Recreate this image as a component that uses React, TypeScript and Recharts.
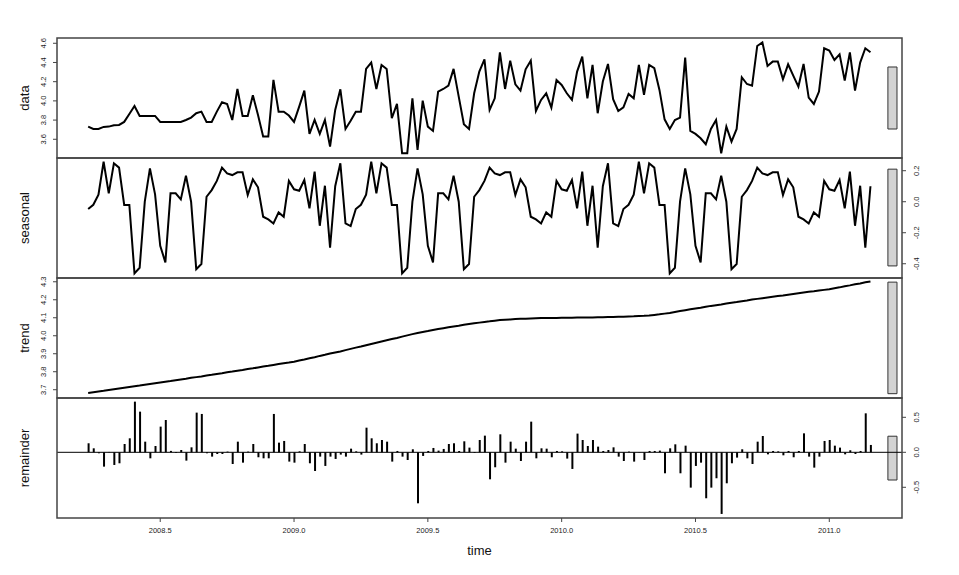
import React from 'react';
import { ComposedChart, Line, Bar, XAxis, YAxis, ReferenceArea, ReferenceLine } from 'recharts';

// weekly series, start = c(2008, 13), frequency = 52
const START_YEAR = 2008;
const START_WEEK = 12;
const FREQ = 52;

const dataValues = [
  3.732, 3.708, 3.708, 3.729, 3.732, 3.746, 3.749, 3.781, 3.864, 3.947,
  3.843, 3.843, 3.843, 3.843, 3.781, 3.781, 3.781, 3.781, 3.781, 3.801,
  3.826, 3.871, 3.888, 3.781, 3.781, 3.888, 3.985, 3.968, 3.801, 4.124,
  3.843, 3.843, 4.058, 3.853, 3.628, 3.628, 4.218, 3.888, 3.888, 3.847,
  3.781, 3.94, 4.107, 3.656, 3.801, 3.656, 3.801, 3.524, 3.906, 4.121,
  3.708, 3.794, 3.888, 3.888, 4.333, 4.399, 4.124, 4.374, 4.333, 3.819,
  3.968, 3.454, 3.454, 4.027, 3.489, 4.003, 3.732, 3.687, 4.097, 4.124,
  4.159, 4.333, 4.044, 3.756, 3.708, 4.079, 4.305, 4.433, 3.906, 4.027,
  4.506, 4.124, 4.419, 4.173, 4.107, 4.329, 4.419, 3.895, 4.01, 4.079,
  3.93, 4.218, 4.166, 4.079, 4.01, 4.305, 4.461, 4.027, 4.374, 3.871,
  4.201, 4.385, 4.017, 3.895, 3.933, 4.072, 4.027, 4.374, 4.062, 4.374,
  4.34, 4.114, 3.808, 3.708, 3.801, 3.826, 4.451, 3.687, 3.656, 3.61,
  3.548, 3.708, 3.801, 3.454, 3.732, 3.576, 3.708, 4.246, 4.176, 4.159,
  4.572, 4.61, 4.364, 4.409, 4.409, 4.225, 4.381, 4.263, 4.149, 4.385,
  4.034, 3.968, 4.097, 4.548, 4.524, 4.426, 4.485, 4.211, 4.506, 4.107,
  4.399, 4.548, 4.506,
];

const seasonalValues = [
  -0.047, -0.02, 0.045, 0.258, 0.054, 0.248, 0.22, -0.021, -0.021, -0.462,
  -0.426, 0.0, 0.215, 0.048, -0.284, -0.391, 0.054, 0.054, 0.015, 0.168,
  0.0, -0.436, -0.402, 0.032, 0.075, 0.134, 0.22, 0.183, 0.172, 0.19,
  0.19, 0.043, 0.144, 0.093, -0.097, -0.114, -0.14, -0.069, -0.097, 0.134,
  0.08, 0.071, 0.14, -0.043, 0.194, -0.155, 0.103, -0.297, 0.1, 0.248,
  -0.14, -0.157,
  -0.047, -0.02, 0.045, 0.258, 0.054, 0.248, 0.22, -0.021, -0.021, -0.462,
  -0.426, 0.0, 0.215, 0.048, -0.284, -0.391, 0.054, 0.054, 0.015, 0.168,
  0.0, -0.436, -0.402, 0.032, 0.075, 0.134, 0.22, 0.183, 0.172, 0.19,
  0.19, 0.043, 0.144, 0.093, -0.097, -0.114, -0.14, -0.069, -0.097, 0.134,
  0.08, 0.071, 0.14, -0.043, 0.194, -0.155, 0.103, -0.297, 0.1, 0.248,
  -0.14, -0.157,
  -0.047, -0.02, 0.045, 0.258, 0.054, 0.248, 0.22, -0.021, -0.021, -0.462,
  -0.426, 0.0, 0.215, 0.048, -0.284, -0.391, 0.054, 0.054, 0.015, 0.168,
  0.0, -0.436, -0.402, 0.032, 0.075, 0.134, 0.22, 0.183, 0.172, 0.19,
  0.19, 0.043, 0.144, 0.093, -0.097, -0.114, -0.14, -0.069, -0.097, 0.134,
  0.08, 0.071, 0.14, -0.043, 0.194, -0.155, 0.103, -0.297, 0.1,
];

const trendValues = [
  3.682, 3.686, 3.69, 3.694, 3.699, 3.703, 3.707, 3.711, 3.715, 3.719,
  3.723, 3.728, 3.732, 3.736, 3.74, 3.744, 3.748, 3.753, 3.757, 3.761,
  3.766, 3.77, 3.774, 3.779, 3.783, 3.788, 3.792, 3.797, 3.801, 3.806,
  3.81, 3.815, 3.819, 3.824, 3.829, 3.833, 3.838, 3.843, 3.847, 3.851,
  3.856, 3.862, 3.868, 3.875, 3.881, 3.888, 3.894, 3.901, 3.907, 3.913,
  3.92, 3.927, 3.934, 3.94, 3.947, 3.954, 3.961, 3.968, 3.975, 3.982,
  3.988, 3.995, 4.002, 4.009, 4.015, 4.021, 4.026, 4.032, 4.037, 4.042,
  4.047, 4.052, 4.056, 4.061, 4.065, 4.069, 4.073, 4.077, 4.08, 4.084,
  4.087, 4.089, 4.091, 4.093, 4.094, 4.095, 4.096, 4.097, 4.098, 4.098,
  4.099, 4.099, 4.1, 4.1, 4.1, 4.101, 4.101, 4.102, 4.102, 4.103,
  4.103, 4.104, 4.104, 4.105, 4.106, 4.107, 4.108, 4.11, 4.111, 4.113,
  4.116, 4.119, 4.123, 4.127, 4.132, 4.137, 4.142, 4.147, 4.152, 4.156,
  4.161, 4.166, 4.17, 4.174, 4.179, 4.183, 4.187, 4.192, 4.196, 4.201,
  4.205, 4.209, 4.213, 4.217, 4.221, 4.224, 4.228, 4.232, 4.236, 4.24,
  4.244, 4.247, 4.251, 4.255, 4.259, 4.264, 4.269, 4.275, 4.28, 4.286,
  4.291, 4.297, 4.302,
];

const remainderValues = [
  0.129, 0.057, -0.014, -0.205, 0.005, -0.181, -0.157, 0.119, 0.2, 0.724,
  0.581, 0.152, -0.086, 0.09, 0.367, 0.462, 0.02, -0.01, 0.033, -0.119,
  0.071, 0.567, 0.548, -0.014, -0.062, -0.024, -0.024, 0.01, -0.167, 0.152,
  -0.148, 0.01, 0.119, -0.071, -0.086, -0.086, 0.548, 0.138, 0.162, -0.133,
  -0.148, 0.014, 0.119, -0.157, -0.267, -0.062, -0.195, -0.062, -0.095, -0.033,
  -0.062, 0.052, 0.014, -0.033, 0.352, 0.2, 0.129, 0.176, 0.152, -0.133,
  0.019, -0.062, -0.11, 0.043, -0.729, -0.052, 0.019, 0.062, 0.024, 0.048,
  0.119, 0.129, 0.019, 0.157, 0.067, -0.01, 0.176, 0.238, -0.386, -0.214,
  0.257, -0.148, 0.152, 0.052, -0.124, 0.152, 0.438, -0.086, 0.057, 0.052,
  -0.071, 0.019, 0.014, -0.09, -0.238, 0.267, 0.176, 0.09, 0.176, 0.081,
  0.019, 0.033, 0.071, -0.062, -0.124, 0.01, -0.133, -0.005, -0.11, 0.019,
  0.019, 0.024, -0.3, 0.057, 0.114, -0.3, 0.095, -0.505, -0.195, -0.148,
  -0.657, -0.505, -0.371, -0.881, -0.443, -0.157, -0.076, 0.043, -0.086, -0.167,
  0.152, 0.233, -0.029, 0.019, 0.014, -0.043, 0.019, -0.071, 0.019, 0.271,
  -0.062, -0.219, -0.062, 0.162, 0.176, 0.095, 0.067, -0.029, 0.029, -0.024,
  0.019, 0.557, 0.105,
];

const xTickValues = [2008.5, 2009.0, 2009.5, 2010.0, 2010.5, 2011.0];
const xTickLabels = ['2008.5', '2009.0', '2009.5', '2010.0', '2010.5', '2011.0'];
const dataTicks = [3.6, 3.8, 4.0, 4.2, 4.4, 4.6];
const seasonalTicks = [-0.4, -0.2, 0.0, 0.2];
const trendTicks = [3.7, 3.8, 3.9, 4.0, 4.1, 4.2, 4.3];
const remainderTicks = [-0.5, 0.0, 0.5];
const panelNames = ['data', 'seasonal', 'trend', 'remainder'];
const xAxisTitle = 'time';

const rows = dataValues.map((v, i) => ({
  t: START_YEAR + (START_WEEK + i) / FREQ,
  data: v,
  seasonal: seasonalValues[i],
  trend: trendValues[i],
  remainder: remainderValues[i],
}));

const FONT = '"Liberation Sans", Arial, Helvetica, sans-serif';
const W = 959;
const PLOT_L = 57;
const PLOT_R = 902;
const PANEL_H = 120;
const PAD = 4;
const AXIS_W = 30;
const X_DOMAIN: [number, number] = [2008.1143, 2011.2717];
const BAR_X: [number, number] = [2011.219, 2011.253];
const panelTops = [38, 158, 278, 398];

const LeftTick = (props: any) => {
  const { y, payload } = props;
  const cx = 45.8;
  return (
    <text x={cx} y={y} transform={`rotate(-90 ${cx} ${y})`} textAnchor="middle" fontSize={7.5} fill="#222" fontFamily={FONT}>
      {Number(payload.value).toFixed(1)}
    </text>
  );
};

const RightTick = (props: any) => {
  const { y, payload } = props;
  const cx = 919.5;
  return (
    <text x={cx} y={y} transform={`rotate(-90 ${cx} ${y})`} textAnchor="middle" fontSize={7.5} fill="#222" fontFamily={FONT}>
      {Number(payload.value).toFixed(1)}
    </text>
  );
};

const BottomTick = (props: any) => {
  const { x, y, payload } = props;
  const idx = xTickValues.indexOf(payload.value);
  return (
    <text x={x} y={y + 11} textAnchor="middle" fontSize={7.5} fill="#222" fontFamily={FONT}>
      {idx >= 0 ? xTickLabels[idx] : payload.value}
    </text>
  );
};

type PanelProps = {
  idx: number;
  dataKey: string;
  domain: [number, number];
  ticks: number[];
  side: 'left' | 'right';
  bar: [number, number];
  kind: 'line' | 'bar';
  showX?: boolean;
};

const Panel = ({ idx, dataKey, domain, ticks, side, bar, kind, showX }: PanelProps) => {
  const xAxisH = showX ? 40 : 0;
  const margin = side === 'left'
    ? { top: PAD, bottom: showX ? 0 : PAD, left: PLOT_L - AXIS_W, right: W - PLOT_R }
    : { top: PAD, bottom: showX ? 0 : PAD, left: PLOT_L, right: W - PLOT_R - AXIS_W };
  return (
    <div style={{ position: 'absolute', left: 0, top: panelTops[idx] - PAD }}>
      <ComposedChart width={W} height={PANEL_H + PAD + (showX ? xAxisH : PAD)} data={rows} margin={margin}>
        <XAxis
          type="number"
          dataKey="t"
          domain={X_DOMAIN}
          allowDataOverflow
          hide={!showX}
          height={xAxisH}
          ticks={xTickValues}
          interval={0}
          tick={<BottomTick />}
          tickSize={4}
          tickMargin={0}
          axisLine={false}
          tickLine={{ stroke: '#444' }}
        />
        <YAxis
          type="number"
          orientation={side}
          width={AXIS_W}
          domain={domain}
          allowDataOverflow
          ticks={ticks}
          interval={0}
          tick={side === 'left' ? <LeftTick /> : <RightTick />}
          tickSize={4}
          axisLine={false}
          tickLine={{ stroke: '#444' }}
        />
        {kind === 'bar' && <ReferenceLine y={0} stroke="#000" strokeWidth={1} />}
        <ReferenceArea x1={BAR_X[0]} x2={BAR_X[1]} y1={bar[0]} y2={bar[1]} fill="#d3d3d3" fillOpacity={1} stroke="#333" strokeWidth={1} />
        {kind === 'line' ? (
          <Line type="linear" dataKey={dataKey} stroke="#000" strokeWidth={2} dot={false} isAnimationActive={false} />
        ) : (
          <Bar dataKey={dataKey} fill="#000" barSize={2} isAnimationActive={false} />
        )}
      </ComposedChart>
    </div>
  );
};

export default function App() {
  return (
    <div style={{ position: 'absolute', left: 0, top: 0, width: W, height: 575, background: '#fff', overflow: 'hidden' }}>
      <Panel idx={0} dataKey="data" domain={[3.405, 4.655]} ticks={dataTicks} side="left" bar={[3.707, 4.353]} kind="line" />
      <Panel idx={1} dataKey="seasonal" domain={[-0.492, 0.282]} ticks={seasonalTicks} side="right" bar={[-0.414, 0.21]} kind="line" />
      <Panel idx={2} dataKey="trend" domain={[3.654, 4.321]} ticks={trendTicks} side="left" bar={[3.678, 4.298]} kind="line" />
      <Panel idx={3} dataKey="remainder" domain={[-0.939, 0.776]} ticks={remainderTicks} side="right" bar={[-0.396, 0.23]} kind="bar" showX />
      <svg width={W} height={575} style={{ position: 'absolute', left: 0, top: 0, pointerEvents: 'none' }}>
        {panelTops.map((top, i) => (
          <rect key={i} x={PLOT_L} y={top} width={PLOT_R - PLOT_L} height={PANEL_H} fill="none" stroke="#444" strokeWidth={1.5} />
        ))}
        {panelNames.map((name, i) => {
          const cy = panelTops[i] + PANEL_H / 2;
          return (
            <text key={name} x={28.5} y={cy} transform={`rotate(-90 28.5 ${cy})`} textAnchor="middle" fontSize={13} fill="#111" fontFamily={FONT}>
              {name}
            </text>
          );
        })}
        <text x={(PLOT_L + PLOT_R) / 2} y={555} textAnchor="middle" fontSize={13} fill="#111" fontFamily={FONT}>
          {xAxisTitle}
        </text>
      </svg>
    </div>
  );
}
